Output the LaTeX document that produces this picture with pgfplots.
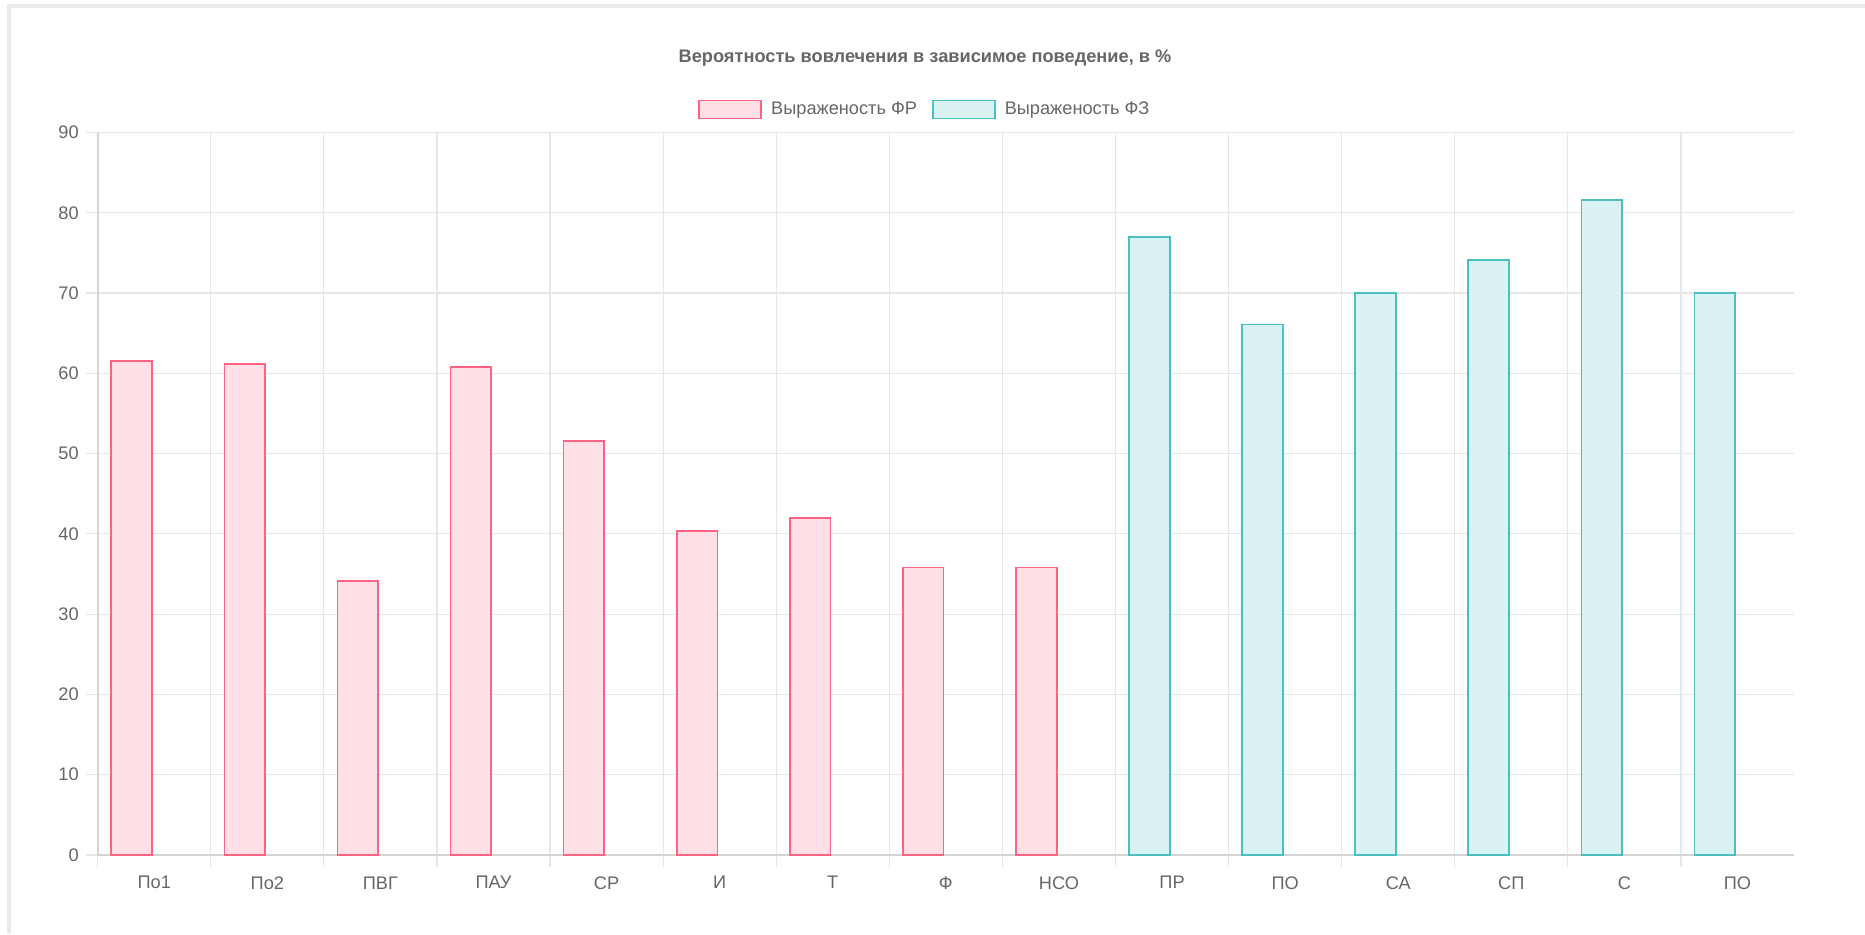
\documentclass[border=0pt]{standalone}
\usepackage{fontspec}
\setmainfont{Liberation Sans}
\usepackage{pgfplots}
\pgfplotsset{compat=1.18}
\definecolor{txt}{HTML}{666666}
\definecolor{gridc}{HTML}{E6E6E6}
\definecolor{axisc}{HTML}{D4D4D4}
\definecolor{pinkline}{HTML}{FF6384}
\definecolor{pinkfill}{HTML}{FFE0E6}
\definecolor{tealline}{HTML}{4BC0C0}
\definecolor{tealfill}{HTML}{DBF2F2}
\definecolor{card}{HTML}{EBEBEB}

\begin{document}
\begin{tikzpicture}[font=\fontsize{9.1}{11}\selectfont]
\path[use as bounding box] (0,0) rectangle (932.5pt,467pt);
% card frame
\draw[card, line width=1.6pt] (4.5pt,0) -- (4.5pt,464pt) -- (932.5pt,464pt);
\begin{axis}[
  at={(48.85pt,39.5pt)}, anchor=south west,
  scale only axis, width=848.15pt, height=361.25pt,
  xmin=-0.5, xmax=14.5, ymin=0, ymax=90,
  ytick={0,10,...,90},
  xtick={0,...,14},
  xticklabels={По1,По2,ПВГ,ПАУ,СР,И,Т,Ф,НСО,ПР,ПО,СА,СП,С,ПО},
  minor xtick={-0.5,0.5,...,13.5},
  axis x line*=bottom, axis y line*=left,
  axis line style={axisc, line width=0.8pt},
  ymajorgrids, xminorgrids,
  major grid style={gridc, line width=0.6pt},
  minor grid style={gridc, line width=0.6pt},
  tick align=outside,
  major tick length=6pt, minor tick length=6pt,
  tick style={gridc, line width=0.6pt},
  every major x tick/.append style={draw=none},
  ticklabel style={text=txt, font=\fontsize{9.1}{11}\selectfont},
  xticklabel style={yshift=-1.2pt},
  /pgf/number format/assume math mode=true,
  legend style={at={(0.4883,1.0318)}, anchor=center, draw=none, fill=none,
    legend columns=2, text=txt, font=\fontsize{9.1}{11}\selectfont,
    /tikz/every even column/.append style={column sep=5.5pt}},
]
\addplot[ybar, bar width=0.36, bar shift=-0.2, draw=pinkline, fill=pinkfill, line width=0.85pt,
  legend image code/.code={\draw[pinkline, fill=pinkfill, line width=0.85pt] (0pt,-4.5pt) rectangle (31pt,4.5pt); \path (33.5pt,0pt);}]
  coordinates {(0,61.5) (1,61.15) (2,34.1) (3,60.75) (4,51.6) (5,40.4) (6,42.0) (7,35.8) (8,35.8)};
\addlegendentry{Выраженость ФР}
\addplot[ybar, bar width=0.36, bar shift=-0.2, draw=tealline, fill=tealfill, line width=0.85pt,
  legend image code/.code={\draw[tealline, fill=tealfill, line width=0.85pt] (0pt,-4.5pt) rectangle (31pt,4.5pt); \path (33.5pt,0pt);}]
  coordinates {(9,77.0) (10,66.1) (11,70.0) (12,74.1) (13,81.6) (14,70.0)};
\addlegendentry{Выраженость ФЗ}
\end{axis}
\node[text=txt, font=\fontsize{9.1}{11}\selectfont\bfseries] at (462.5pt,437.8pt)
  {Вероятность вовлечения в зависимое поведение, в \%};
\end{tikzpicture}
\end{document}
